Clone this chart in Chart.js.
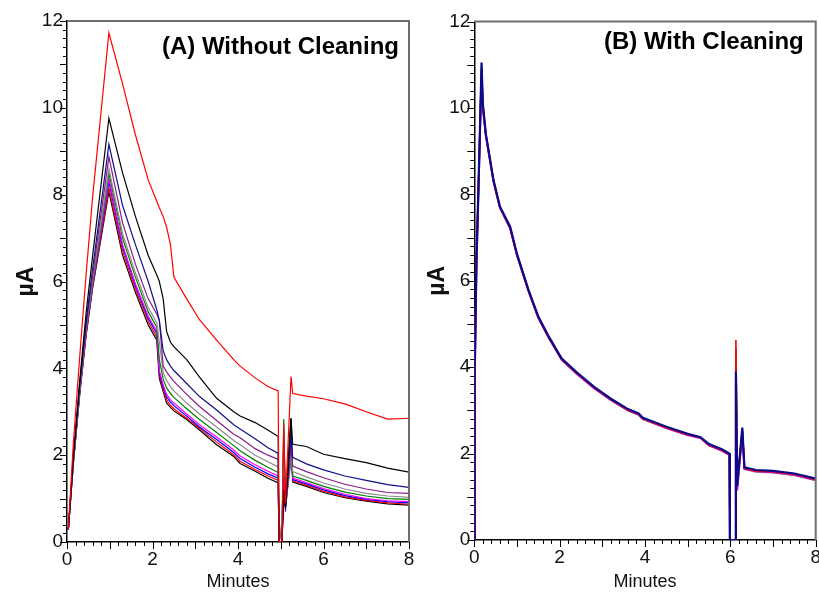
<!DOCTYPE html>
<html>
<head>
<meta charset="utf-8">
<title>Current traces</title>
<script src="https://cdn.jsdelivr.net/npm/chart.js@4.4.0/dist/chart.umd.min.js"></script>
<style>
  html, body { margin: 0; padding: 0; background: #fff; overflow: hidden; }
  #wrap { position: relative; width: 819px; height: 593px; }
  canvas { position: absolute; top: 0; }
  #chartA { left: 0; }
  #chartB { left: 410px; }
</style>
</head>
<body>
<div id="wrap">
  <canvas id="chartA" width="430" height="593"></canvas>
  <canvas id="chartB" width="420" height="593"></canvas>
</div>
<script>
// Axis ticks shared by both panels
const xTicks = [0, 2, 4, 6, 8];
const yTicks = [0, 2, 4, 6, 8, 10, 12];

// Panel A: sampling times (minutes)
const timesA = [0.03, 0.15, 0.3, 0.45, 0.6, 0.98, 1.3, 1.6, 1.9, 2.1, 2.16, 2.25, 2.33, 2.42, 2.5,
  2.8, 3.1, 3.5, 3.9, 4.05, 4.4, 4.7, 4.94, 4.96, 5.03, 5.07, 5.11, 5.24, 5.28, 5.6, 6.0, 6.5, 7.0, 7.5, 8.0];

// Panel A: current (µA), one array per run
const redTopA = [0.28, 2.3, 4.3, 6.2, 7.95, 11.73, 10.55, 9.38, 8.34, 7.85, 7.7, 7.5, 7.25, 6.85, 6.1,
  5.6, 5.12, 4.65, 4.2, 4.05, 3.78, 3.58, 3.48, 0, 0, 2.73, 0.89, 3.81, 3.42, 3.36, 3.3, 3.18, 3.0, 2.83, 2.85];
const blackTopA = [0.28, 2.0, 3.75, 5.3, 6.6, 9.76, 8.5, 7.5, 6.6, 6.15, 6.0, 5.6, 4.85, 4.6, 4.5,
  4.2, 3.8, 3.31, 3.0, 2.9, 2.75, 2.58, 2.43, 0, 0, 1.2, 0.8, 2.85, 2.25, 2.2, 2.02, 1.92, 1.83, 1.7, 1.61];
const navyA = [0.28, 1.95, 3.65, 5.1, 6.3, 9.16, 7.75, 6.85, 6.0, 5.35, 5.1, 4.4, 4.2, 4.05, 3.95,
  3.65, 3.35, 3.04, 2.7, 2.6, 2.38, 2.17, 2.04, 0, 0, 1.0, 0.8, 2.5, 1.95, 1.8, 1.66, 1.52, 1.42, 1.32, 1.26];
const purpleA = [0.28, 1.9, 3.6, 5.0, 6.15, 8.87, 7.35, 6.4, 5.6, 5.25, 5.1, 4.05, 3.92, 3.8, 3.7,
  3.4, 3.12, 2.8, 2.48, 2.4, 2.15, 2.0, 1.9, 0, 0, 1.5, 0.7, 2.2, 1.75, 1.62, 1.48, 1.33, 1.22, 1.14, 1.12];
const grayA = [0.28, 1.88, 3.55, 4.95, 6.05, 8.6, 7.1, 6.2, 5.4, 5.05, 4.6, 3.9, 3.72, 3.58, 3.48,
  3.2, 2.95, 2.65, 2.34, 2.24, 2.0, 1.85, 1.73, 0, 0.5, 2.0, 0.8, 2.0, 1.62, 1.5, 1.36, 1.22, 1.12, 1.06, 1.03];
const greenA = [0.28, 1.87, 3.52, 4.9, 6.0, 8.5, 7.0, 6.1, 5.3, 4.95, 4.2, 3.75, 3.55, 3.42, 3.33,
  3.07, 2.82, 2.52, 2.22, 2.1, 1.88, 1.72, 1.6, 0, 0.4, 2.83, 0.8, 1.9, 1.52, 1.42, 1.28, 1.15, 1.06, 1.0, 0.98];
const magentaA = [0.28, 1.85, 3.5, 4.87, 5.95, 8.38, 6.85, 5.95, 5.2, 4.85, 3.95, 3.62, 3.4, 3.28, 3.2,
  2.95, 2.7, 2.42, 2.12, 1.98, 1.78, 1.63, 1.52, 0, 0.3, 2.3, 0.8, 2.0, 1.47, 1.37, 1.23, 1.1, 1.0, 0.95, 0.93];
const blueA = [0.28, 1.85, 3.48, 4.85, 5.92, 8.3, 6.8, 5.9, 5.15, 4.8, 3.9, 3.57, 3.34, 3.22, 3.14,
  2.9, 2.65, 2.36, 2.06, 1.92, 1.72, 1.57, 1.47, 0, 0, 2.2, 0.9, 2.4, 1.44, 1.34, 1.2, 1.07, 0.98, 0.93, 0.9];
const redLowA = [0.28, 1.83, 3.45, 4.8, 5.88, 8.15, 6.7, 5.82, 5.08, 4.72, 3.85, 3.52, 3.27, 3.15, 3.07,
  2.85, 2.62, 2.3, 2.01, 1.86, 1.67, 1.52, 1.42, 0, 0, 2.6, 1.0, 2.2, 1.41, 1.31, 1.17, 1.04, 0.96, 0.9, 0.87];
const blackLowA = [0.28, 1.82, 3.42, 4.78, 5.85, 8.07, 6.6, 5.75, 5.0, 4.65, 3.77, 3.47, 3.2, 3.1, 3.02,
  2.82, 2.58, 2.24, 1.97, 1.81, 1.63, 1.47, 1.36, 0, 0, 1.5, 1.0, 2.85, 1.38, 1.28, 1.14, 1.02, 0.94, 0.88, 0.85];

// Panel B: sampling times (minutes)
const timesB = [0, 0.01, 0.05, 0.09, 0.13, 0.17, 0.2, 0.27, 0.45, 0.6, 0.84, 1.0, 1.27, 1.5, 1.75, 2.0,
  2.05, 2.4, 2.8, 3.2, 3.6, 3.85, 3.95, 4.5, 5.0, 5.3, 5.5, 5.8, 5.98, 5.99, 6.12, 6.13, 6.16, 6.28,
  6.33, 6.6, 7.0, 7.5, 8.0];

// Panel B: current (µA), one array per run
const navyB = [0, 4.0, 6.5, 7.9, 9.4, 11.05, 10.1, 9.4, 8.33, 7.72, 7.25, 6.62, 5.79, 5.17, 4.7, 4.28,
  4.2, 3.88, 3.55, 3.27, 3.03, 2.93, 2.83, 2.62, 2.46, 2.38, 2.22, 2.1, 2.0, 0, 0, 3.9, 1.25, 2.6,
  1.68, 1.62, 1.6, 1.54, 1.42];
const redB = [0, 3.8, 6.4, 7.85, 9.35, 10.9, 10.05, 9.38, 8.3, 7.7, 7.22, 6.6, 5.77, 5.15, 4.68, 4.26,
  4.18, 3.86, 3.53, 3.25, 3.01, 2.91, 2.81, 2.6, 2.44, 2.37, 2.2, 2.08, 1.98, 0, 0, 4.63, 1.3, 2.55,
  1.66, 1.6, 1.58, 1.52, 1.4];
const magentaB = [0, 3.6, 6.3, 7.8, 9.3, 10.8, 10.0, 9.36, 8.29, 7.69, 7.21, 6.59, 5.76, 5.14, 4.67, 4.25,
  4.17, 3.85, 3.52, 3.24, 3.0, 2.9, 2.8, 2.59, 2.43, 2.36, 2.19, 2.07, 1.97, 0, 0, 3.6, 1.15, 2.5,
  1.65, 1.59, 1.57, 1.51, 1.39];
const greenB = [0, 3.9, 6.45, 7.88, 9.38, 10.95, 10.08, 9.39, 8.31, 7.7, 7.23, 6.6, 5.77, 5.15, 4.68, 4.26,
  4.18, 3.86, 3.53, 3.25, 3.01, 2.9, 2.8, 2.6, 2.44, 2.37, 2.2, 2.08, 1.98, 0, 0, 4.45, 1.25, 2.55,
  1.66, 1.6, 1.58, 1.52, 1.4];
const grayB = [0, 3.7, 6.35, 7.82, 9.32, 10.85, 10.02, 9.37, 8.3, 7.69, 7.22, 6.59, 5.76, 5.14, 4.67, 4.25,
  4.17, 3.85, 3.52, 3.24, 3.0, 2.9, 2.8, 2.59, 2.43, 2.36, 2.19, 2.07, 1.97, 0, 0, 4.2, 1.2, 2.5,
  1.64, 1.58, 1.56, 1.5, 1.38];

const FONT = '"Liberation Sans", Arial, Helvetica, sans-serif';

// Minor tick marks, top/right frame and the panel heading
const panelDecor = {
  id: 'panelDecor',
  afterDraw(chart, args, opts) {
    const { ctx, chartArea: a, scales: { x, y } } = chart;
    ctx.save();
    ctx.strokeStyle = '#000';
    ctx.lineWidth = 1;
    ctx.beginPath();
    for (let i = 0; i <= 40; i++) {
      const px = Math.round(x.getPixelForValue(i * 0.2)) + 0.5;
      const len = i % 5 === 0 ? 7 : 4;
      ctx.moveTo(px, a.bottom);
      ctx.lineTo(px, a.bottom + len);
    }
    for (let i = 0; i <= 60; i++) {
      const py = Math.round(y.getPixelForValue(i * 0.2)) + 0.5;
      const len = i % 5 === 0 ? 7 : 4;
      ctx.moveTo(a.left, py);
      ctx.lineTo(a.left - len, py);
    }
    ctx.stroke();

    ctx.strokeStyle = '#6e6e6e';
    ctx.lineWidth = 2;
    ctx.beginPath();
    ctx.moveTo(a.left, a.top);
    ctx.lineTo(a.right, a.top);
    ctx.lineTo(a.right, a.bottom);
    ctx.stroke();

    ctx.fillStyle = '#000';
    ctx.font = 'bold 24px ' + FONT;
    ctx.textAlign = 'right';
    ctx.textBaseline = 'middle';
    ctx.fillText(opts.text, a.right - opts.dx, a.top + opts.dy);
    ctx.restore();
  }
};

function toPoints(times, values) {
  return times.map((t, i) => ({ x: t, y: values[i] }));
}

function makeDatasets(times, series) {
  return series.map(s => ({
    label: s.label,
    data: toPoints(times, s.values),
    borderColor: s.color,
    borderWidth: s.width || 1.2,
    pointRadius: 0,
    tension: 0,
    fill: false
  }));
}

function buildPanel(canvasId, times, series, box, heading) {
  return new Chart(document.getElementById(canvasId), {
    type: 'line',
    data: { datasets: makeDatasets(times, series) },
    options: {
      responsive: false,
      animation: false,
      events: [],
      layout: { padding: { top: box.top, right: box.right, bottom: 0, left: 0 } },
      plugins: {
        legend: { display: false },
        tooltip: { enabled: false },
        panelDecor: heading
      },
      scales: {
        x: {
          type: 'linear',
          min: 0,
          max: 8,
          afterBuildTicks: s => { s.ticks = xTicks.map(v => ({ value: v })); },
          afterFit: s => { s.height = box.axisHeight; },
          grid: { display: false, drawTicks: false },
          border: { display: true, color: '#000', width: 1.5 },
          ticks: {
            autoSkip: false,
            maxRotation: 0,
            padding: 6,
            color: '#111',
            font: { family: FONT, size: 19 }
          },
          title: {
            display: true,
            text: 'Minutes',
            color: '#111',
            padding: { top: 0, bottom: 0 },
            font: { family: FONT, size: 18 }
          }
        },
        y: {
          min: 0,
          max: 12,
          afterBuildTicks: s => { s.ticks = yTicks.map(v => ({ value: v })); },
          afterFit: s => { s.width = box.axisWidth; },
          grid: { display: false, drawTicks: false },
          border: { display: true, color: '#000', width: 1.5 },
          ticks: {
            padding: 4,
            color: '#111',
            font: { family: FONT, size: 19 }
          },
          title: {
            display: true,
            text: 'µA',
            color: '#111',
            padding: { top: box.titlePad, bottom: 0 },
            font: { family: FONT, size: 23, weight: 'bold' }
          }
        }
      }
    },
    plugins: [panelDecor]
  });
}

buildPanel('chartA', timesA, [
  { label: 'Run 1', color: '#ff0000', values: redTopA },
  { label: 'Run 2', color: '#000000', values: blackTopA },
  { label: 'Run 3', color: '#10108a', values: navyA },
  { label: 'Run 4', color: '#8a1a8a', values: purpleA },
  { label: 'Run 5', color: '#8c8c8c', values: grayA },
  { label: 'Run 6', color: '#008000', values: greenA },
  { label: 'Run 7', color: '#ff00ff', values: magentaA },
  { label: 'Run 8', color: '#0000ff', values: blueA },
  { label: 'Run 9', color: '#ff0000', values: redLowA },
  { label: 'Run 10', color: '#000000', values: blackLowA }
], { top: 21, right: 21, axisHeight: 51, axisWidth: 67, titlePad: 13 },
   { text: '(A) Without Cleaning', dx: 10, dy: 26 });

buildPanel('chartB', timesB, [
  { label: 'Run 1', color: '#0a0a8c', values: navyB, width: 2.2 },
  { label: 'Run 2', color: '#ff0000', values: redB, width: 1.6 },
  { label: 'Run 3', color: '#d010d0', values: magentaB, width: 2.0 },
  { label: 'Run 4', color: '#008000', values: greenB, width: 1.6 },
  { label: 'Run 5', color: '#8c8c8c', values: grayB, width: 2.0 }
], { top: 21.5, right: 14.3, axisHeight: 53, axisWidth: 64.3, titlePad: 14 },
   { text: '(B) With Cleaning', dx: 12, dy: 20.5 });
</script>
</body>
</html>
